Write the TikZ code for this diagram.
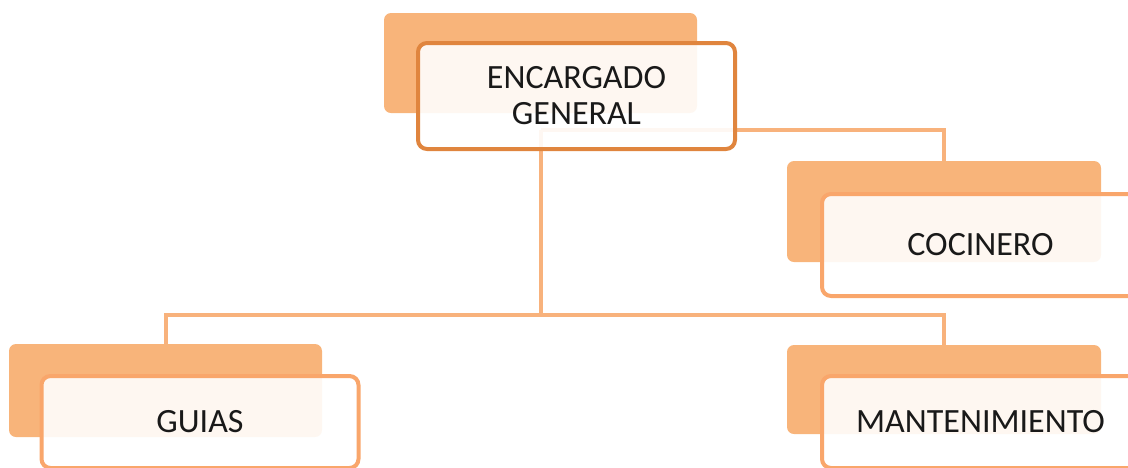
\documentclass[tikz,border=0pt]{standalone}
\usepackage{fontspec}
\setmainfont{Carlito}
\definecolor{backfill}{RGB}{248,180,122}
\definecolor{topedge}{RGB}{224,133,62}
\definecolor{subedge}{RGB}{249,166,107}
\definecolor{connc}{RGB}{248,178,124}
\tikzset{
  backbox/.style={fill=backfill, draw=none, rounded corners=7pt, inner sep=0pt},
  frontbox/.style={draw=subedge, line width=4pt, fill=white, fill opacity=0.9, text opacity=1,
     rounded corners=9pt, minimum width=317pt, align=center, inner sep=0pt,
     font=\fontsize{34}{36}\selectfont, text=black!90},
  topfront/.style={frontbox, draw=topedge},
  conn/.style={draw=connc, line width=4pt}
}
\begin{document}
\begin{tikzpicture}[x=1pt,y=-1pt]
\useasboundingbox (0,0) rectangle (1128,467);
\clip (0,0) rectangle (1128,467);
% junction points of the connectors
\coordinate (junc) at (541,130);
\coordinate (hub) at (541,315);
% back boxes
\node[backbox, minimum width=313pt, minimum height=100pt] (encB) at (540.5,63) {};
\node[backbox, minimum width=314pt, minimum height=101pt] (cocB) at (944,211.5) {};
\node[backbox, minimum width=313pt, minimum height=93pt] (guiB) at (165.5,390.5) {};
\node[backbox, minimum width=314pt, minimum height=89pt] (manB) at (944,389.5) {};
% connectors
\draw[conn] (junc) -- (junc -| cocB.north) -- (cocB.north);
\draw[conn] (junc) -- (hub);
\draw[conn] (guiB.north) -- (hub -| guiB.north) -- (hub -| manB.north) -- (manB.north);
% front boxes
\node[topfront, minimum height=106pt] (enc) at (576.5,96) {ENCARGADO\\GENERAL};
\node[frontbox, minimum height=102pt] (coc) at (980.5,245) {COCINERO};
\node[frontbox, minimum height=92pt] (gui) at (200,422) {GUIAS};
\node[frontbox, minimum height=92pt] (man) at (980.5,422) {MANTENIMIENTO};
\end{tikzpicture}
\end{document}
